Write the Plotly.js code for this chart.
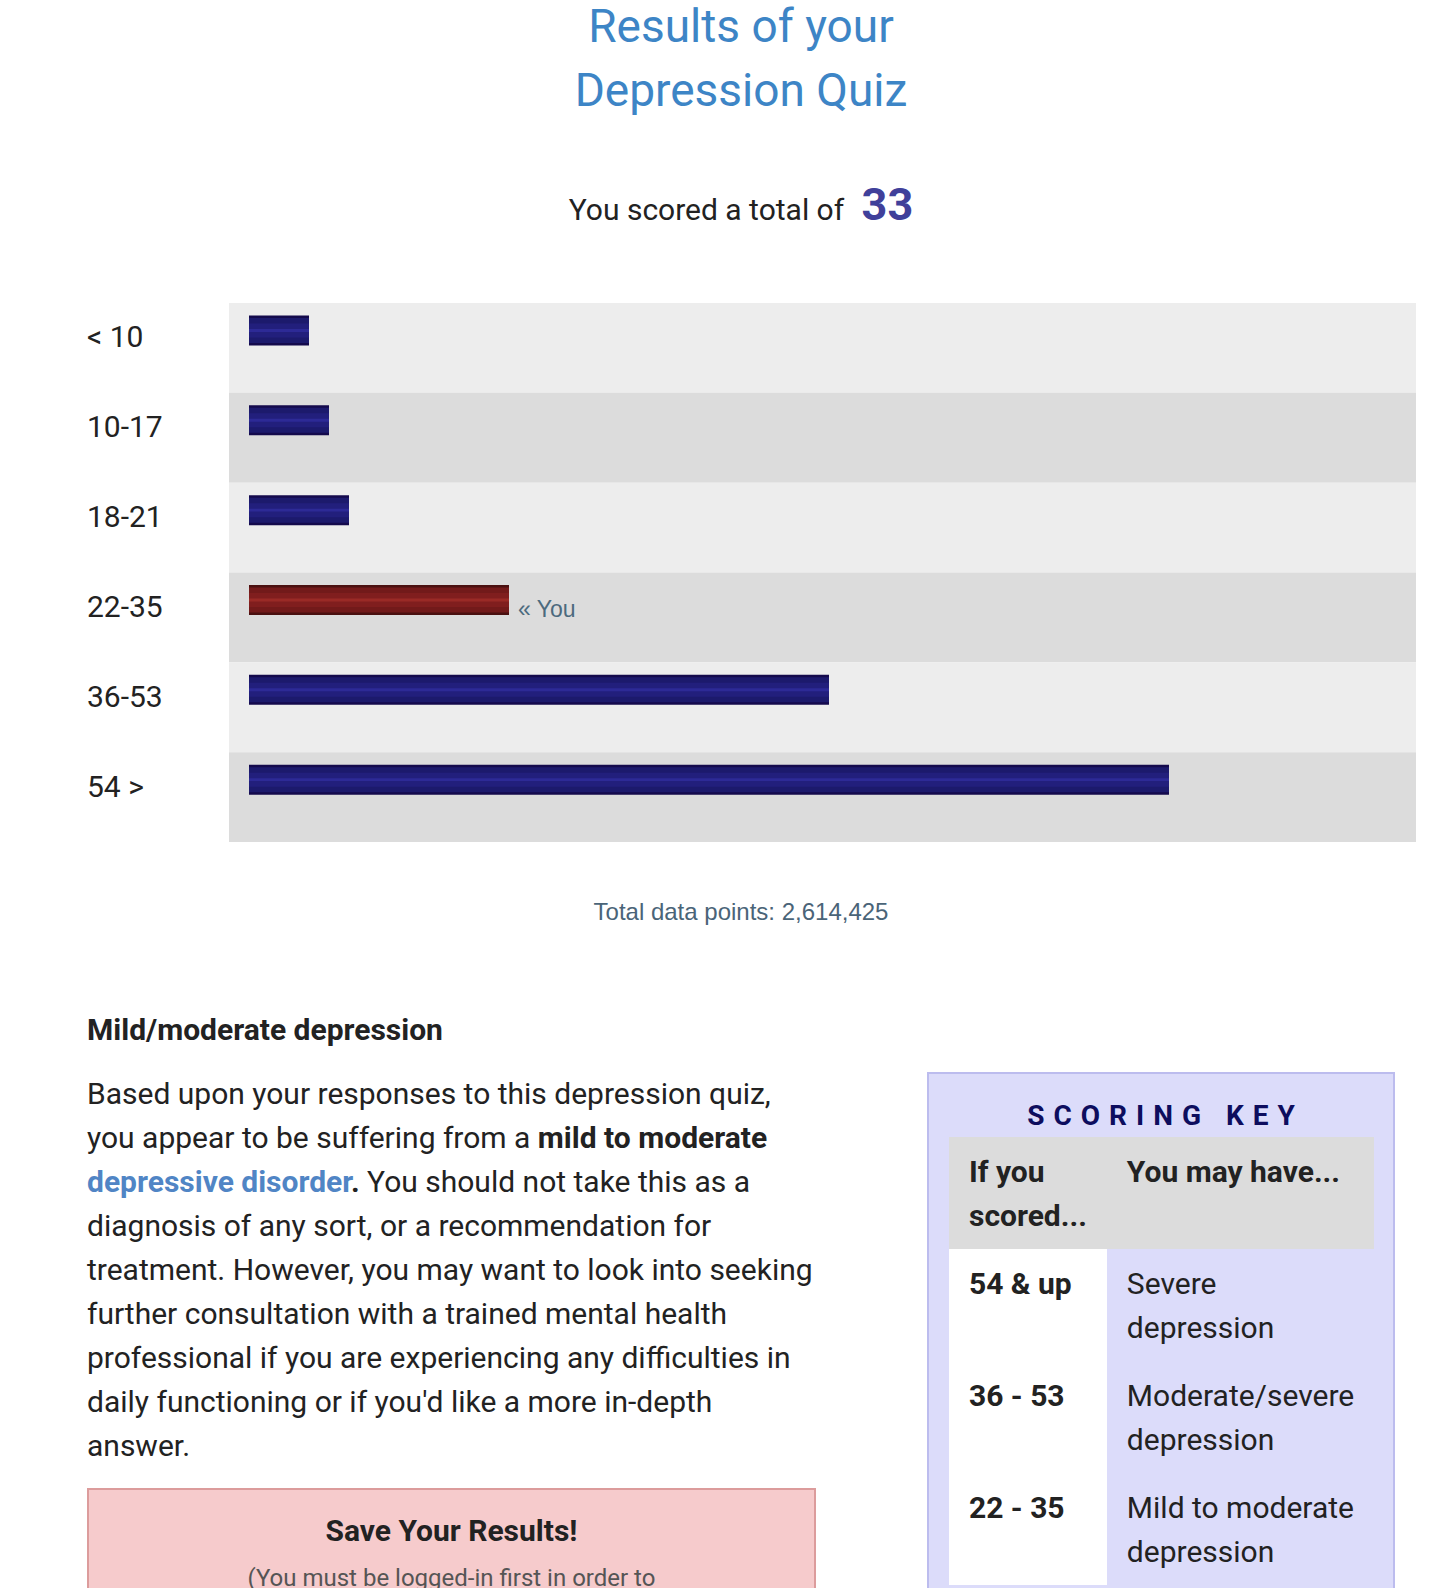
<!DOCTYPE html>
<html><head><meta charset="utf-8">
<script src="https://cdn.plot.ly/plotly-3.0.1.min.js"></script>
<style>
html,body{margin:0;padding:0;background:#fff;}
body{width:1445px;height:1588px;overflow:hidden;position:relative;font-family:Roboto,sans-serif;color:#222;}
.abs{position:absolute;white-space:nowrap;}
#title{left:241px;width:1000px;top:-6px;font-size:46px;line-height:64px;color:#3d85c6;text-align:center;}
#score{left:241px;width:1000px;top:180.4px;font-size:30px;line-height:60px;text-align:center;color:#222;}
#score b{font-size:45px;line-height:40px;color:#40409a;margin-left:10px;font-weight:700;}
#chart{left:0;top:293px;width:1445px;height:559px;}
#total{left:241px;width:1000px;top:896.7px;font-family:"Liberation Sans",Arial,sans-serif;font-size:24px;line-height:30px;color:#4a6478;text-align:center;}
#heading{left:87px;top:1007.7px;font-size:30px;line-height:44px;font-weight:700;}
#para{left:87px;top:1071.7px;font-size:30px;line-height:44px;}
#para b{font-weight:700;}
#para .lnk{color:#5085c5;}
#save{left:86.7px;top:1488px;width:729.5px;height:200px;box-sizing:border-box;border:2px solid #dc9c9c;background:#f6cbcc;}
#save .t1{position:absolute;left:0;right:0;top:18.7px;text-align:center;font-size:30px;line-height:44px;font-weight:700;}
#save .t2{position:absolute;left:0;right:0;top:69.8px;text-align:center;font-size:24px;line-height:36px;color:#555;}
#key{left:926.7px;top:1071.7px;width:468.7px;height:600px;box-sizing:border-box;border:2px solid #bcbcee;background:#dcdcfa;}
#key .kt{position:absolute;left:0;right:0;top:22.7px;text-align:center;font-size:28px;line-height:40px;font-weight:700;letter-spacing:9px;padding-left:9px;color:#0d0d5e;}
#key table{position:absolute;left:20.3px;top:63.3px;width:425px;border-collapse:collapse;font-size:30px;line-height:44px;}
#key th{background:#dcdcdc;text-align:left;vertical-align:top;font-weight:700;padding:12.7px 20px 10.9px 20px;white-space:normal;}
#key td{vertical-align:top;padding:13px 20px 11px 20px;white-space:normal;}
#key td.c1{background:#fff;font-weight:700;}
</style></head><body>
<div id="title" class="abs">Results of your<br>Depression Quiz</div>
<div id="score" class="abs">You scored a total of <b>33</b></div>
<div id="chart" class="abs"></div>
<div id="total" class="abs">Total data points: 2,614,425</div>
<div id="heading" class="abs">Mild/moderate depression</div>
<div id="para" class="abs">Based upon your responses to this depression quiz,<br>you appear to be suffering from a <b>mild to moderate<br><span class="lnk">depressive disorder</span>.</b> You should not take this as a<br>diagnosis of any sort, or a recommendation for<br>treatment. However, you may want to look into seeking<br>further consultation with a trained mental health<br>professional if you are experiencing any difficulties in<br>daily functioning or if you'd like a more in-depth<br>answer.</div>
<div id="save" class="abs"><div class="t1">Save Your Results!</div><div class="t2">(You must be logged-in first in order to</div></div>
<div id="key" class="abs"><div class="kt">SCORING KEY</div>
<table><colgroup><col style="width:158px"><col style="width:267px"></colgroup>
<tr><th>If you scored...</th><th>You may have...</th></tr>
<tr><td class="c1">54 &amp; up</td><td>Severe depression</td></tr>
<tr><td class="c1">36 - 53</td><td>Moderate/severe depression</td></tr>
<tr><td class="c1">22 - 35</td><td>Mild to moderate depression</td></tr>
</table></div>
<script>
// ---- data ----
const categories = ['< 10', '10-17', '18-21', '22-35', '36-53', '54 >'];
const shares = [3, 4, 5, 13, 29, 46];
const yourCategory = '22-35';
const youLabel = '\u00AB You';

// ---- styles ----
const layers = [
  {offset: -0.361, width: 0.334, blue: '#140a4c', red: '#4a1010'},
  {offset: -0.333, width: 0.278, blue: '#1c1a6c', red: '#721a1a'},
  {offset: -0.272, width: 0.156, blue: '#221f7c', red: '#801e1e'},
  {offset: -0.211, width: 0.033, blue: '#2d2a96', red: '#9a2a26'}
];
const traces = layers.map(L => ({
  type: 'bar', orientation: 'h', y: categories, x: shares, base: 0,
  offset: L.offset, width: L.width,
  marker: {color: categories.map(c => c === yourCategory ? L.red : L.blue), line: {width: 0}},
  hoverinfo: 'skip', showlegend: false
}));
const shapes = categories.map((c, i) => ({
  type: 'rect', xref: 'paper', x0: 0, x1: 1, yref: 'y', y0: i - 0.5, y1: i + 0.5,
  fillcolor: i % 2 === 0 ? '#ededed' : '#dcdcdc', line: {width: 0}, layer: 'below'
}));
const annotations = categories.map(c => ({
  xref: 'paper', x: -144 / 1187, xanchor: 'left', yref: 'y', y: c, yshift: 11,
  text: c, showarrow: false, font: {family: 'Roboto', size: 30, color: '#222'}
}));
const yi = categories.indexOf(yourCategory);
annotations.push({
  xref: 'x', x: shares[yi], xanchor: 'left', xshift: 7, yref: 'y', y: yourCategory, yshift: 8,
  text: youLabel, showarrow: false, font: {family: 'Liberation Sans, Arial', size: 23, color: '#4c6a7e'}
});
const layout = {
  width: 1445, height: 559, autosize: false,
  margin: {l: 229, r: 29, t: 10, b: 10, pad: 0},
  paper_bgcolor: 'rgba(0,0,0,0)', plot_bgcolor: 'rgba(0,0,0,0)',
  barmode: 'overlay',
  xaxis: {range: [-1, 58.35], visible: false, fixedrange: true},
  yaxis: {type: 'category', range: [5.5, -0.5], showticklabels: false, showgrid: false, zeroline: false, fixedrange: true},
  shapes: shapes, annotations: annotations, showlegend: false
};
Plotly.newPlot('chart', traces, layout, {staticPlot: true, displayModeBar: false});
</script>
</body></html>
